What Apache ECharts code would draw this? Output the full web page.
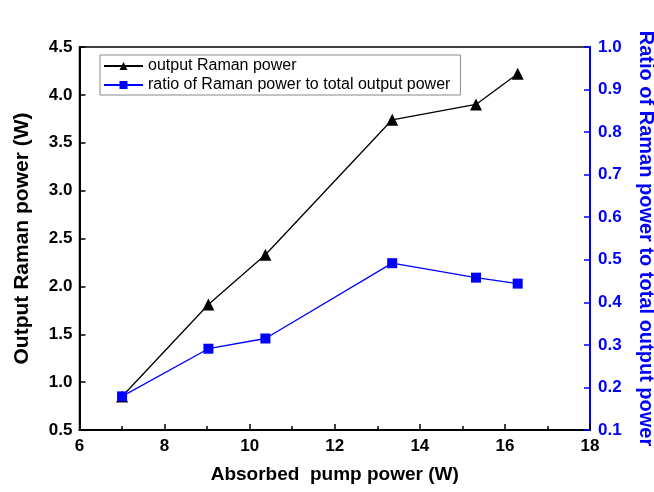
<!DOCTYPE html>
<html>
<head>
<meta charset="utf-8">
<script src="https://cdn.jsdelivr.net/npm/echarts@6/dist/echarts.min.js"></script>
<style>html,body{margin:0;padding:0;background:#fff;}#c{width:654px;height:492px;}</style>
</head>
<body>
<div id="c"></div>
<script>
var pumpPower = [7.0, 9.03, 10.37, 13.35, 15.32, 16.3];
var ramanPower = [0.85, 1.81, 2.33, 3.74, 3.90, 4.22];
var ramanRatio = [0.179, 0.291, 0.315, 0.492, 0.458, 0.444];
var seriesNames = ['output Raman power', 'ratio of Raman power to total output power'];

var font = 'Liberation Sans, Arial, sans-serif';
var chart = echarts.init(document.getElementById('c'));
function pairs(xs, ys){ return xs.map(function(x,i){return [x, ys[i]];}); }
chart.setOption({
  animation: false,
  grid: {left: 79.5, right: 64, top: 47, bottom: 62, outerBoundsMode: 'none', containLabel: false,
    show: true, borderColor: '#000', borderWidth: 1.5, backgroundColor: 'transparent'},
  legend: {
    orient: 'vertical', left: 100, top: 55, itemWidth: 39, itemHeight: 10, itemGap: 3,
    borderColor: '#888', borderWidth: 1, padding: [3, 10, 2, 3],
    textStyle: {fontFamily: font, fontSize: 16, color: '#000'},
    data: seriesNames
  },
  xAxis: {
    type: 'value', min: 6, max: 18, interval: 2,
    name: 'Absorbed  pump power (W)', nameLocation: 'middle', nameGap: 35,
    nameTextStyle: {fontFamily: font, fontSize: 19, fontWeight: 'bold', color: '#000'},
    axisLine: {lineStyle: {color: '#000', width: 2}},
    axisTick: {inside: true, length: 6, lineStyle: {color: '#000', width: 1.5}},
    minorTick: {show: true, splitNumber: 2, length: 4, lineStyle: {color: '#000', width: 1.5}},
    axisLabel: {fontFamily: font, fontSize: 17, fontWeight: 'bold', color: '#000', margin: 8},
    splitLine: {show: false}
  },
  yAxis: [{
    type: 'value', min: 0.5, max: 4.5, interval: 0.5, position: 'left',
    name: 'Output Raman power (W)', nameLocation: 'middle', nameGap: 47,
    nameTextStyle: {fontFamily: font, fontSize: 21, fontWeight: 'bold', color: '#000'},
    axisLine: {show: true, lineStyle: {color: '#000', width: 2}},
    axisTick: {show: true, inside: true, length: 6, lineStyle: {color: '#000', width: 1.5}},
    axisLabel: {fontFamily: font, fontSize: 17, fontWeight: 'bold', color: '#000', margin: 7,
      formatter: function(v){return v.toFixed(1);}},
    splitLine: {show: false}
  }, {
    type: 'value', min: 0.1, max: 1.0, interval: 0.1, position: 'right',
    name: 'Ratio of Raman power to total output power', nameLocation: 'middle', nameGap: 46, nameRotate: -90,
    nameTextStyle: {fontFamily: font, fontSize: 20, fontWeight: 'bold', color: '#0000ff'},
    axisLine: {show: true, lineStyle: {color: '#0000ff', width: 2}},
    axisTick: {show: true, inside: true, length: 6, lineStyle: {color: '#0000ff', width: 1.5}},
    axisLabel: {fontFamily: font, fontSize: 17, fontWeight: 'bold', color: '#0000ff', margin: 8,
      formatter: function(v){return v.toFixed(1);}},
    splitLine: {show: false}
  }],
  series: [{
    name: seriesNames[0], type: 'line', yAxisIndex: 0,
    data: pairs(pumpPower, ramanPower),
    symbol: 'triangle', symbolSize: 12,
    lineStyle: {color: '#000', width: 1.3},
    itemStyle: {color: '#000'}
  }, {
    name: seriesNames[1], type: 'line', yAxisIndex: 1,
    data: pairs(pumpPower, ramanRatio),
    symbol: 'rect', symbolSize: 10,
    lineStyle: {color: '#0000ff', width: 1.3},
    itemStyle: {color: '#0000ff'}
  }]
});
</script>
</body>
</html>
